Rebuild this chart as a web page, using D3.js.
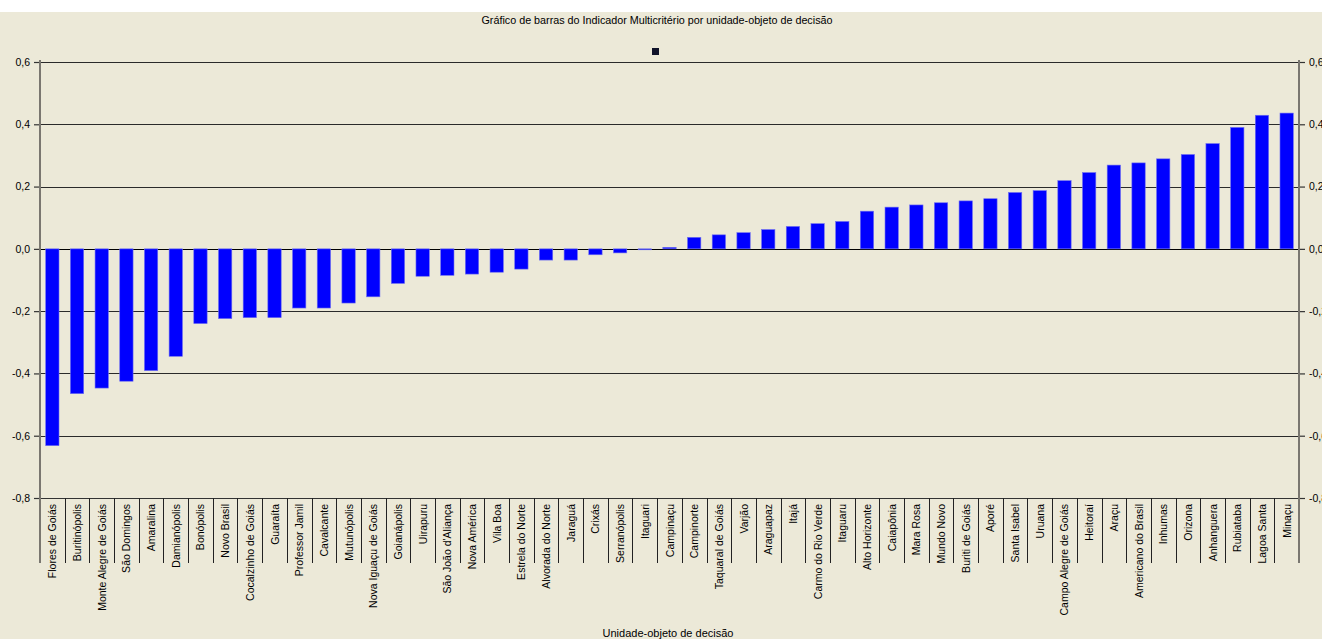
<!DOCTYPE html>
<html>
<head>
<meta charset="utf-8">
<script src="https://cdn.jsdelivr.net/npm/d3@7"></script>
<style>
	body { margin: 0; background: #ece9d8; }
	svg { display: block; font-family: 'Liberation Sans', Arial, sans-serif; }
</style>
</head>
<body>
<div id="chart"></div>
<script>
const titleText = 'Gráfico de barras do Indicador Multicritério por unidade-objeto de decisão'
const axisTitle = 'Unidade-objeto de decisão'

const municipios = [
	'Flores de Goiás', 'Buritinópolis', 'Monte Alegre de Goiás', 'São Domingos', 'Amaralina',
	'Damianópolis', 'Bonópolis', 'Novo Brasil', 'Cocalzinho de Goiás', 'Guaraíta',
	'Professor Jamil', 'Cavalcante', 'Mutunópolis', 'Nova Iguaçu de Goiás', 'Goianápolis',
	'Uirapuru', "São João d'Aliança", 'Nova América', 'Vila Boa', 'Estrela do Norte',
	'Alvorada do Norte', 'Jaraguá', 'Crixás', 'Serranópolis', 'Itaguari',
	'Campinaçu', 'Campinorte', 'Taquaral de Goiás', 'Varjão', 'Araguapaz',
	'Itajá', 'Carmo do Rio Verde', 'Itaguaru', 'Alto Horizonte', 'Caiapônia',
	'Mara Rosa', 'Mundo Novo', 'Buriti de Goiás', 'Aporé', 'Santa Isabel',
	'Uruana', 'Campo Alegre de Goiás', 'Heitoraí', 'Araçu', 'Americano do Brasil',
	'Inhumas', 'Orizona', 'Anhanguera', 'Rubiataba', 'Lagoa Santa', 'Minaçu'
]

const indicador = [
	-0.632, -0.465, -0.447, -0.425, -0.391,
	-0.345, -0.240, -0.224, -0.221, -0.221,
	-0.190, -0.190, -0.174, -0.154, -0.111,
	-0.088, -0.085, -0.081, -0.075, -0.065,
	-0.036, -0.036, -0.019, -0.013, -0.003,
	0.005, 0.037, 0.045, 0.052, 0.062,
	0.072, 0.081, 0.088, 0.121, 0.134,
	0.141, 0.148, 0.154, 0.161, 0.181,
	0.187, 0.219, 0.245, 0.269, 0.276,
	0.289, 0.303, 0.338, 0.390, 0.429, 0.436
]

const yTicks = [-0.8, -0.6, -0.4, -0.2, 0, 0.2, 0.4, 0.6]

const width = 1322
const height = 639
const plot = {left: 40, right: 1299, top: 62, bottom: 498}

const svg = d3.select('#chart').append('svg')
	.attr('width', width)
	.attr('height', height)

svg.append('rect').attr('width', width).attr('height', height).attr('fill', '#ece9d8')
svg.append('rect').attr('width', width).attr('height', 12).attr('fill', '#ffffff')

const x = d3.scaleBand()
	.domain(municipios)
	.range([plot.left, plot.right])
	.paddingInner(0.46)
	.paddingOuter(0.23)

const y = d3.scaleLinear()
	.domain([-0.8, 0.6])
	.range([plot.bottom, plot.top])

const fmt = v => d3.format('.1f')(v).replace('.', ',').replace('−', '-')

// gridlines
svg.append('g').selectAll('line').data(yTicks.slice(1)).enter()
	.append('line')
	.attr('x1', plot.left).attr('x2', plot.right)
	.attr('y1', d => Math.round(y(d)) + 0.5).attr('y2', d => Math.round(y(d)) + 0.5)
	.attr('stroke', d => d === 0 ? '#000' : '#2a2a2a')
	.attr('stroke-width', 1.2)

// bars
svg.append('g').selectAll('rect').data(indicador).enter()
	.append('rect')
	.attr('x', (d, i) => x(municipios[i]))
	.attr('width', x.bandwidth())
	.attr('y', d => y(Math.max(0, d)))
	.attr('height', d => Math.abs(y(d) - y(0)))
	.attr('fill', '#0000ff')
	.attr('stroke', '#6f6ff0')
	.attr('stroke-width', 0.6)

// left and right value axes
const styleAxis = (g, dx) => {
	g.select('.domain').remove()
	g.selectAll('.tick line').attr('stroke', '#333').attr('stroke-width', 1.2)
	g.selectAll('.tick text').attr('font-size', 10.5).attr('fill', '#000')
		.attr('font-family', "'Liberation Sans', Arial, sans-serif").attr('dx', dx)
}

const yAxisL = d3.axisLeft(y).tickValues(yTicks).tickSize(6).tickFormat(fmt)
svg.append('g').attr('transform', `translate(${plot.left},0)`).call(yAxisL).call(g => styleAxis(g, -1))

const yAxisR = d3.axisRight(y).tickValues(yTicks).tickSize(6).tickFormat(fmt)
svg.append('g').attr('transform', `translate(${plot.right},0)`).call(yAxisR).call(g => styleAxis(g, 1))

// category axis with long dividers
const labelBottom = 563
svg.append('line')
	.attr('x1', plot.left).attr('x2', plot.right)
	.attr('y1', plot.bottom + 0.5).attr('y2', plot.bottom + 0.5)
	.attr('stroke', '#333').attr('stroke-width', 1.2)

const dividers = d3.range(1, municipios.length).map(k => x.step() * k + plot.left)
svg.append('g').selectAll('line').data(dividers).enter()
	.append('line')
	.attr('x1', d => Math.round(d) + 0.5).attr('x2', d => Math.round(d) + 0.5)
	.attr('y1', plot.bottom).attr('y2', labelBottom)
	.attr('stroke', '#222').attr('stroke-width', 1)

svg.append('g').selectAll('line').data([plot.left, plot.right]).enter()
	.append('line')
	.attr('x1', d => d).attr('x2', d => d)
	.attr('y1', plot.top - 2).attr('y2', labelBottom)
	.attr('stroke', '#7a7770').attr('stroke-width', 2)

svg.append('g').selectAll('text').data(municipios).enter()
	.append('text')
	.attr('transform', d => `translate(${x(d) + x.bandwidth() / 2 + 4},${plot.bottom + 6}) rotate(-90)`)
	.attr('text-anchor', 'end')
	.attr('font-size', 10.5)
	.attr('fill', '#000')
	.text(d => d)

// titles
svg.append('text')
	.attr('x', 657).attr('y', 24)
	.attr('text-anchor', 'middle')
	.attr('font-size', 11)
	.attr('textLength', 351)
	.attr('lengthAdjust', 'spacingAndGlyphs')
	.text(titleText)

svg.append('rect')
	.attr('x', 652).attr('y', 48).attr('width', 7).attr('height', 7)
	.attr('fill', '#10132a')

svg.append('text')
	.attr('x', 668).attr('y', 637)
	.attr('text-anchor', 'middle')
	.attr('font-size', 11)
	.text(axisTitle)
</script>
</body>
</html>
